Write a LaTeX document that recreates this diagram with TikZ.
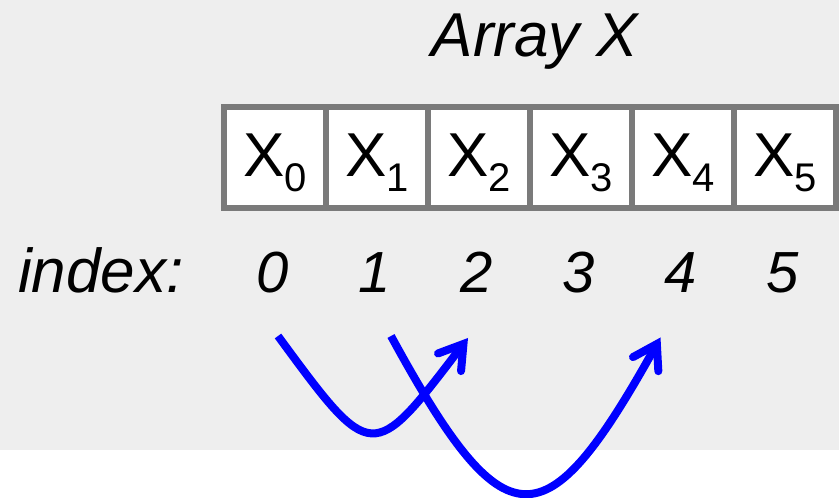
\documentclass[tikz,border=0pt]{standalone}
\usepackage{fontspec}
\setmainfont{Liberation Sans}
\usetikzlibrary{arrows.meta}
\definecolor{bggray}{HTML}{EEEEEE}
\definecolor{cellborder}{HTML}{7A7A7A}
\definecolor{arrblue}{HTML}{0000FF}
\tikzset{
  cellbox/.style={draw=cellborder, fill=white, line width=6pt, minimum width=102pt, minimum height=101.5pt, inner sep=0pt, outer sep=0pt},
  celltext/.style={anchor=base, inner sep=0pt, font=\fontsize{62}{62}\selectfont, text=black},
  idxtext/.style={anchor=base, inner sep=0pt, font=\fontsize{62}{62}\selectfont\itshape, text=black},
  numtext/.style={anchor=base, inner sep=0pt, font=\fontsize{58}{58}\selectfont\itshape, text=black},
  jump/.style={draw=arrblue, line width=8pt, line cap=butt, -{Straight Barb[length=23pt, width=29pt, line cap=round, line join=miter]}},
}
\newcommand{\cellsub}[1]{X\raisebox{-15pt}{\fontsize{40}{40}\selectfont #1}}
\begin{document}
\begin{tikzpicture}[x=1pt,y=1pt]
\useasboundingbox (0,0) rectangle (839,498);
\fill[bggray] (0,48) rectangle (839,498);
% title
\node[idxtext] (title) at (535,441) {Array X};
% cells
\foreach \i in {0,...,5} {
  \node[cellbox] (c\i) at (275+\i*102,340.25) {};
}
\foreach \i in {0,...,5} {
  \node[celltext] (t\i) at (275+\i*102,321) {\cellsub{\i}};
}
% index row
\node[idxtext, anchor=base west] (idxlabel) at (18,205) {index:};
\foreach \i in {0,...,5} {
  \node[numtext] (n\i) at (273+\i*102,205) {\i};
}
% arrows
\coordinate (a1s) at (278,162);
\coordinate (a1c) at (372,34);
\coordinate (a1e) at (468,160);
\coordinate (a2s) at (391,162);
\coordinate (a2c1) at (505,-47);
\coordinate (a2c2) at (545,-47);
\coordinate (a2e) at (660.5,160.5);
\draw[jump] (a1s) .. controls (a1c) and (a1c) .. (a1e);
\draw[jump] (a2s) .. controls (a2c1) and (a2c2) .. (a2e);
\end{tikzpicture}
\end{document}
